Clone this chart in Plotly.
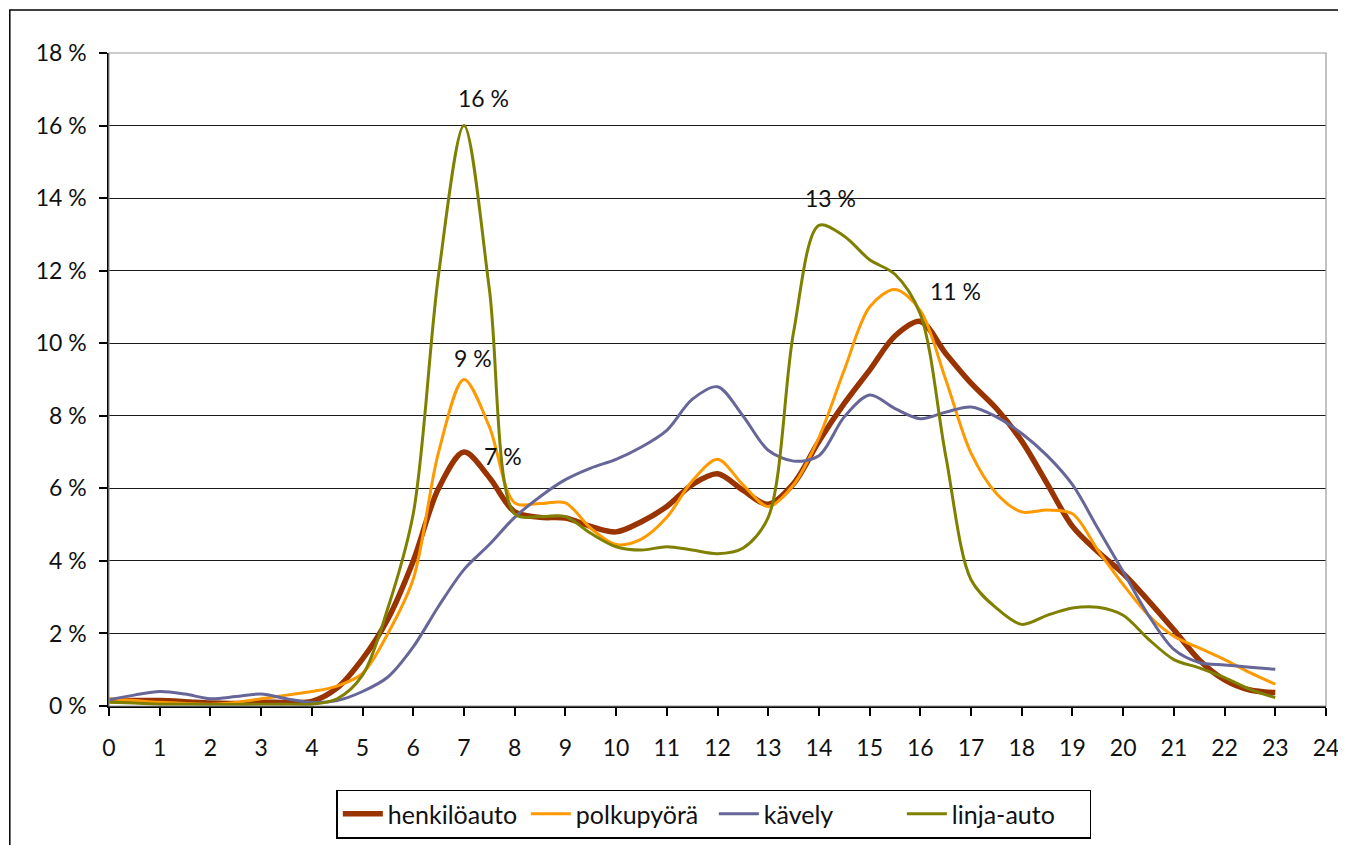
import plotly.graph_objects as go

# Hours (half-hour resolution)
hours = [h / 2 for h in range(0, 47)]

henkiloauto = [0.15, 0.15, 0.15, 0.12, 0.08, 0.07, 0.10, 0.10, 0.13, 0.50,
               1.30, 2.40, 4.00, 6.00, 7.00, 6.30, 5.35, 5.20, 5.18, 4.95,
               4.80, 5.08, 5.50, 6.10, 6.40, 5.95, 5.56, 6.13, 7.30, 8.34,
               9.26, 10.20, 10.60, 9.72, 8.90, 8.20, 7.30, 6.13, 4.95, 4.25,
               3.65, 2.90, 2.10, 1.27, 0.72, 0.44, 0.37]

polkupyora = [0.20, 0.15, 0.10, 0.07, 0.05, 0.10, 0.20, 0.30, 0.40, 0.55,
              0.90, 2.00, 3.50, 7.00, 9.00, 7.70, 5.60, 5.58, 5.60, 4.90,
              4.45, 4.60, 5.20, 6.20, 6.80, 6.10, 5.50, 6.10, 7.40, 9.26,
              11.00, 11.48, 10.90, 9.00, 6.97, 5.86, 5.35, 5.40, 5.30, 4.30,
              3.35, 2.50, 1.92, 1.60, 1.28, 0.92, 0.60]

kavely = [0.17, 0.30, 0.40, 0.33, 0.20, 0.26, 0.33, 0.20, 0.10, 0.15,
          0.40, 0.80, 1.63, 2.75, 3.76, 4.45, 5.20, 5.77, 6.24, 6.56,
          6.80, 7.14, 7.60, 8.45, 8.80, 8.00, 7.05, 6.75, 6.90, 7.97,
          8.57, 8.20, 7.92, 8.10, 8.24, 7.97, 7.51, 6.90, 6.10, 4.90,
          3.70, 2.50, 1.56, 1.20, 1.13, 1.07, 1.01]

linja_auto = [0.10, 0.08, 0.05, 0.05, 0.04, 0.04, 0.05, 0.05, 0.05, 0.20,
              0.85, 2.70, 5.30, 11.90, 16.00, 11.50, 5.30, 5.22, 5.22, 4.76,
              4.39, 4.30, 4.39, 4.30, 4.20, 4.35, 5.20, 10.30, 13.25, 12.95,
              12.30, 11.90, 10.80, 6.90, 3.48, 2.70, 2.25, 2.50, 2.70, 2.72,
              2.50, 1.84, 1.28, 1.05, 0.78, 0.46, 0.23]

series_names = ["henkilöauto", "polkupyörä", "kävely", "linja-auto"]
series_values = [henkiloauto, polkupyora, kavely, linja_auto]
series_colors = ["#993300", "#FF9900", "#666699", "#808000"]
series_widths = [5.5, 3, 3, 3]

# Peak labels
label_texts = ["16 %", "9 %", "7 %", "13 %", "11 %"]
label_x = [7.38, 7.17, 7.76, 14.22, 16.69]
label_y = [16.75, 9.6, 6.9, 14.0, 11.45]

x_ticks = list(range(0, 25))
y_ticks = list(range(0, 19, 2))

FONT = "Lato"
FS = 23

fig = go.Figure()
for name, vals, col, w in zip(series_names, series_values, series_colors, series_widths):
    fig.add_trace(go.Scatter(
        x=hours, y=vals, name=name, mode="lines",
        line=dict(color=col, width=w, shape="spline", smoothing=0.9),
        hoverinfo="x+y+name",
    ))

for t, x, y in zip(label_texts, label_x, label_y):
    fig.add_annotation(x=x, y=y, text=t, showarrow=False,
                       font=dict(family=FONT, size=FS, color="#111111"))

# outer chart frame (left and top edges visible)
fig.add_shape(type="rect", xref="paper", yref="paper",
              x0=-0.0815, y0=-0.25, x1=1.05, y1=1.066,
              line=dict(color="#000000", width=1.5), layer="below")
# plot area border (gray)
fig.add_shape(type="rect", xref="paper", yref="paper",
              x0=0, y0=0, x1=1, y1=1,
              line=dict(color="#9A9A9A", width=1.2), layer="above")

fig.update_layout(
    width=1346, height=845,
    margin=dict(l=100.5, r=28, t=44.5, b=147, autoexpand=False),
    paper_bgcolor="white", plot_bgcolor="white",
    font=dict(family=FONT, size=FS, color="#111111"),
    showlegend=True,
    legend=dict(
        orientation="h", x=0.497, xanchor="center", y=-0.128, yanchor="top",
        bordercolor="#000000", borderwidth=1.5, bgcolor="white",
        font=dict(family=FONT, size=25, color="#111111"),
        itemwidth=40, tracegroupgap=0,
        entrywidth=133, entrywidthmode="pixels",
    ),
)

fig.update_xaxes(
    range=[0, 24], tickmode="array", tickvals=x_ticks,
    ticktext=[str(v) for v in x_ticks],
    showgrid=False, zeroline=False, automargin=False,
    showline=True, linecolor="#000000", linewidth=1.5,
    ticks="outside", ticklen=8, tickwidth=1.5, tickcolor="#000000",
    ticklabelstandoff=13,
    tickfont=dict(family=FONT, size=FS, color="#111111"),
)
fig.update_yaxes(
    range=[0, 18], tickmode="array", tickvals=y_ticks,
    ticktext=[f"{v} %" for v in y_ticks],
    showgrid=True, gridcolor="#1a1a1a", gridwidth=1.2,
    zeroline=False, automargin=False,
    showline=True, linecolor="#000000", linewidth=1.5,
    ticks="outside", ticklen=8, tickwidth=1.5, tickcolor="#000000",
    ticklabelstandoff=8,
    tickfont=dict(family=FONT, size=FS, color="#111111"),
)

fig.write_html("out.html")
